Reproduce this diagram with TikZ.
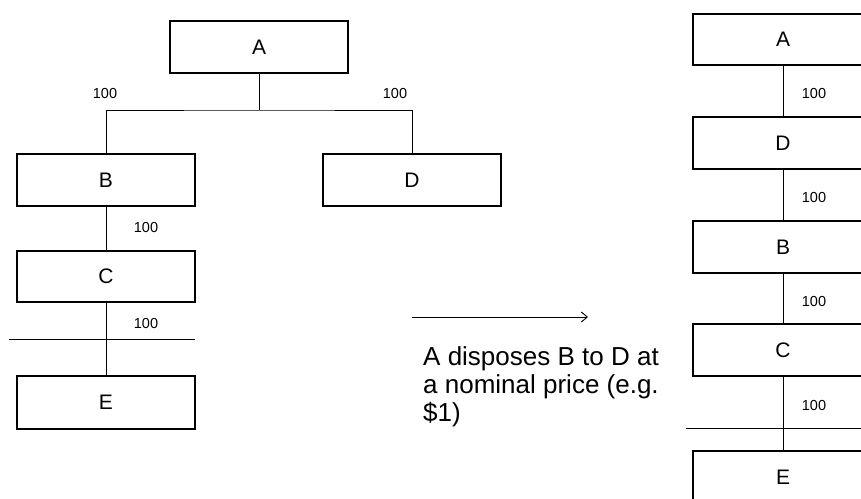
\documentclass[tikz,border=0pt]{standalone}
\usepackage{fontspec}
\setmainfont{Liberation Sans}
\usetikzlibrary{arrows.meta}
\begin{document}
\begin{tikzpicture}[x=1pt,y=-1pt,
  ent/.style={draw=black, line width=2.4pt, fill=white, inner sep=0pt, outer sep=0pt,
    minimum width=178pt, minimum height=52pt, font=\fontsize{21}{25}\selectfont},
  entr/.style={ent, minimum width=180pt},
  conn/.style={draw=black, line width=0.9pt},
  amt/.style={inner sep=0pt, font=\fontsize{14.5}{17}\selectfont},
  cutline/.style={draw=black, line width=0.9pt}
]
\useasboundingbox (0,0) rectangle (861,498);
\clip (0,0) rectangle (861,498);

% ---- left structure ----
\node[ent] (A) at (259,47) {A};
\node[ent] (B) at (106,180) {B};
\node[ent] (D) at (412,180) {D};
\node[ent, minimum height=51pt] (C) at (106,276.5) {C};
\node[ent, minimum height=53pt] (E) at (106,402.5) {E};
\coordinate (j) at (259,110);
\draw[conn] (A) -- (j);
\draw[conn] (B.north) |- (j) -| (D.north);
\draw[conn] (B) -- (C);
\draw[conn] (C) -- (E);
\coordinate (cutLa) at (9,339);
\coordinate (cutLb) at (195,339);
\draw[cutline] (cutLa) -- (cutLb);
\node[amt] (lAB) at (105,94) {100};
\node[amt] (lAD) at (395,94) {100};
\node[amt] (lBC) at (146,228) {100};
\node[amt] (lCE) at (146,324) {100};

% ---- arrow and explanation ----
\coordinate (ar1) at (412,317);
\coordinate (ar2) at (588,317);
\draw[line width=0.9pt, -{Straight Barb[length=6pt,width=10pt,line width=0.9pt]}] (ar1) -- (ar2);
\node[anchor=north west, inner sep=0pt, align=left, font=\fontsize{26}{28}\selectfont] (txt) at (423,346)
  {A disposes B to D at\\a nominal price (e.g.\\\$1)};

% ---- right structure ----
\node[entr, minimum height=51pt] (A2) at (783,39.5) {A};
\node[entr] (D2) at (783,143) {D};
\node[entr] (B2) at (783,247) {B};
\node[entr] (C2) at (783,350) {C};
\node[entr] (E2) at (783,477) {E};
\draw[conn] (A2) -- (D2);
\draw[conn] (D2) -- (B2);
\draw[conn] (B2) -- (C2);
\draw[conn] (C2) -- (E2);
\coordinate (cutRa) at (686,428);
\coordinate (cutRb) at (870,428);
\draw[cutline] (cutRa) -- (cutRb);
\node[amt] (rAD) at (814,94) {100};
\node[amt] (rDB) at (814,198) {100};
\node[amt] (rBC) at (814,302) {100};
\node[amt] (rCE) at (814,406) {100};
\end{tikzpicture}
\end{document}
